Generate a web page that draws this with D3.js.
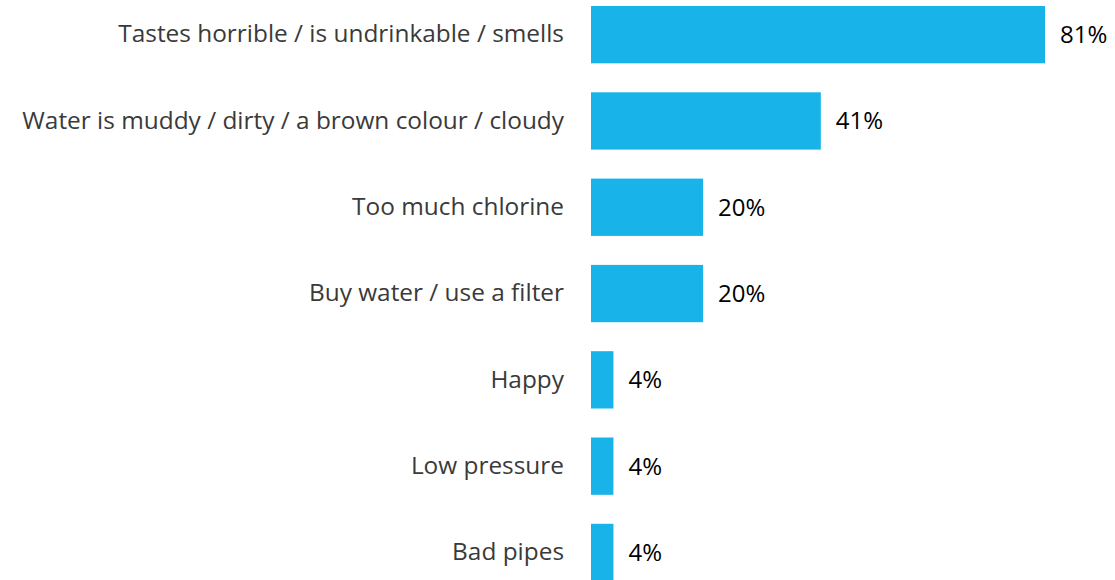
<!DOCTYPE html>
<html>
<head>
<meta charset="utf-8">
<script src="https://cdn.jsdelivr.net/npm/d3@7"></script>
<style>
  html, body { margin: 0; padding: 0; background: #fff; }
  svg { display: block; }
</style>
</head>
<body>
<svg id="chart" width="1115" height="580"></svg>
<script>
const categories = [
  "Tastes horrible / is undrinkable / smells",
  "Water is muddy / dirty / a brown colour / cloudy",
  "Too much chlorine",
  "Buy water / use a filter",
  "Happy",
  "Low pressure",
  "Bad pipes"
];
const values = [81, 41, 20, 20, 4, 4, 4];
const valueLabels = ["81%", "41%", "20%", "20%", "4%", "4%", "4%"];

const svg = d3.select("#chart");
const fontFamily = "'Open Sans', 'Noto Sans', sans-serif";

const x = d3.scaleLinear().domain([0, 100]).range([591, 591 + 560.5]);
const y = d3.scaleBand().domain(categories).range([6, 581.1]).paddingInner(0.336).paddingOuter(0);

const data = categories.map((c, i) => ({ c, v: values[i], l: valueLabels[i] }));

svg.selectAll("rect.bar").data(data).enter().append("rect")
  .attr("class", "bar")
  .attr("x", x(0))
  .attr("y", d => y(d.c))
  .attr("width", d => x(d.v) - x(0))
  .attr("height", y.bandwidth())
  .attr("fill", "#17b3e9");

const yAxis = d3.axisLeft(y).tickSize(0).tickPadding(27);
const gAxis = svg.append("g").attr("transform", `translate(${x(0)},0)`).call(yAxis);
gAxis.select(".domain").remove();
gAxis.selectAll("text")
  .attr("font-family", fontFamily)
  .attr("font-size", 24.4)
  .attr("fill", "#3a3a3a");

svg.selectAll("text.val").data(data).enter().append("text")
  .attr("class", "val")
  .attr("x", d => x(d.v) + 15)
  .attr("y", d => y(d.c) + y.bandwidth() / 2)
  .attr("dy", "0.35em")
  .attr("font-family", fontFamily)
  .attr("font-size", 24)
  .attr("fill", "#000")
  .text(d => d.l);
</script>
</body>
</html>
